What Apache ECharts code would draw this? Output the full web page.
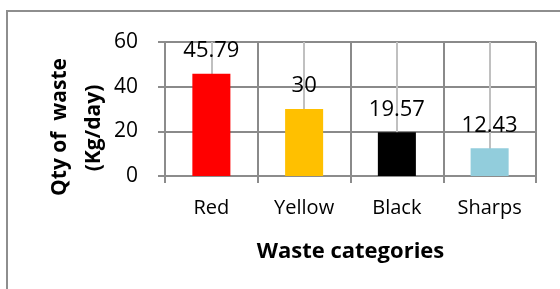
<!DOCTYPE html>
<html>
<head>
<meta charset="utf-8">
<script src="https://cdn.jsdelivr.net/npm/echarts@6/dist/echarts.min.js"></script>
<style>
  html, body { margin: 0; padding: 0; background: #fff; }
  #chart { width: 560px; height: 289px; }
</style>
</head>
<body>
<div id="chart"></div>
<script>
// waste categories and daily quantity (kg/day)
var categories = ["Red", "Yellow", "Black", "Sharps"];
var values = [45.79, 30, 19.57, 12.43];
var barColors = ["#ff0000", "#ffc000", "#000000", "#92cddc"];
var yTickValues = [0, 20, 40, 60];

var font = "'Open Sans'";
var axisColor = "#8c8c8c";
var gridDark = "#8a8a8a";
var gridLight = "#c0c0c0";

// lighter vertical lines through each category centre (helper axis in half steps)
var centreLines = [];
for (var i = 1; i < categories.length * 2; i += 2) {
  centreLines.push({ xAxis: i });
}

var chart = echarts.init(document.getElementById("chart"));

chart.setOption({
  animation: false,
  grid: {
    left: 165,
    top: 42,
    right: 24,
    bottom: 113
  },
  graphic: [
    {
      // outer chart border (cut off by the picture edge)
      type: "rect",
      z: 100,
      shape: { x: 7, y: 11, width: 620, height: 320 },
      style: { fill: "transparent", stroke: "#8e8e8e", lineWidth: 2 },
      silent: true
    },
    {
      type: "text",
      x: 60,
      y: 127,
      rotation: Math.PI / 2,
      style: {
        text: "Qty of  waste",
        font: "bold 21px " + font,
        fill: "#000",
        textAlign: "center",
        textVerticalAlign: "middle"
      }
    },
    {
      type: "text",
      x: 94,
      y: 128,
      rotation: Math.PI / 2,
      style: {
        text: "(Kg/day)",
        font: "bold 21px " + font,
        fill: "#000",
        textAlign: "center",
        textVerticalAlign: "middle"
      }
    }
  ],
  xAxis: [
    {
      type: "category",
      data: categories,
      name: "Waste categories",
      nameLocation: "middle",
      nameGap: 65,
      nameTextStyle: {
        fontFamily: font,
        fontWeight: "bold",
        fontSize: 22,
        color: "#000"
      },
      axisLine: { lineStyle: { color: axisColor, width: 2 } },
      axisTick: { show: true, length: 7, lineStyle: { color: axisColor, width: 2 } },
      axisLabel: {
        margin: 22,
        fontFamily: font,
        fontSize: 20,
        color: "#000"
      },
      splitLine: { show: true, lineStyle: { color: gridDark, width: 2 } }
    },
    {
      type: "value",
      min: 0,
      max: categories.length * 2,
      interval: 1,
      position: "top",
      axisLine: { show: false },
      axisTick: { show: false },
      axisLabel: { show: false },
      splitLine: { show: false }
    }
  ],
  yAxis: {
    type: "value",
    min: yTickValues[0],
    max: yTickValues[yTickValues.length - 1],
    interval: yTickValues[1] - yTickValues[0],
    axisLine: { show: true, lineStyle: { color: axisColor, width: 2 } },
    axisTick: { show: true, length: 7, lineStyle: { color: axisColor, width: 2 } },
    axisLabel: {
      margin: 27,
      fontFamily: font,
      fontSize: 21,
      color: "#000"
    },
    splitLine: { show: true, lineStyle: { color: gridDark, width: 2 } }
  },
  series: [
    {
      type: "line",
      xAxisIndex: 1,
      yAxisIndex: 0,
      data: [],
      silent: true,
      markLine: {
        z: 1,
        silent: true,
        animation: false,
        symbol: "none",
        label: { show: false },
        emphasis: { disabled: true },
        lineStyle: { color: gridLight, width: 2, type: "solid" },
        data: centreLines
      }
    },
    {
      type: "bar",
      xAxisIndex: 0,
      yAxisIndex: 0,
      z: 2,
      barWidth: "41%",
      data: values.map(function (v, i) {
        return { value: v, itemStyle: { color: barColors[i] } };
      }),
      label: {
        show: true,
        position: "top",
        distance: 12,
        fontFamily: font,
        fontSize: 22,
        color: "#000"
      }
    }
  ]
});
</script>
</body>
</html>
